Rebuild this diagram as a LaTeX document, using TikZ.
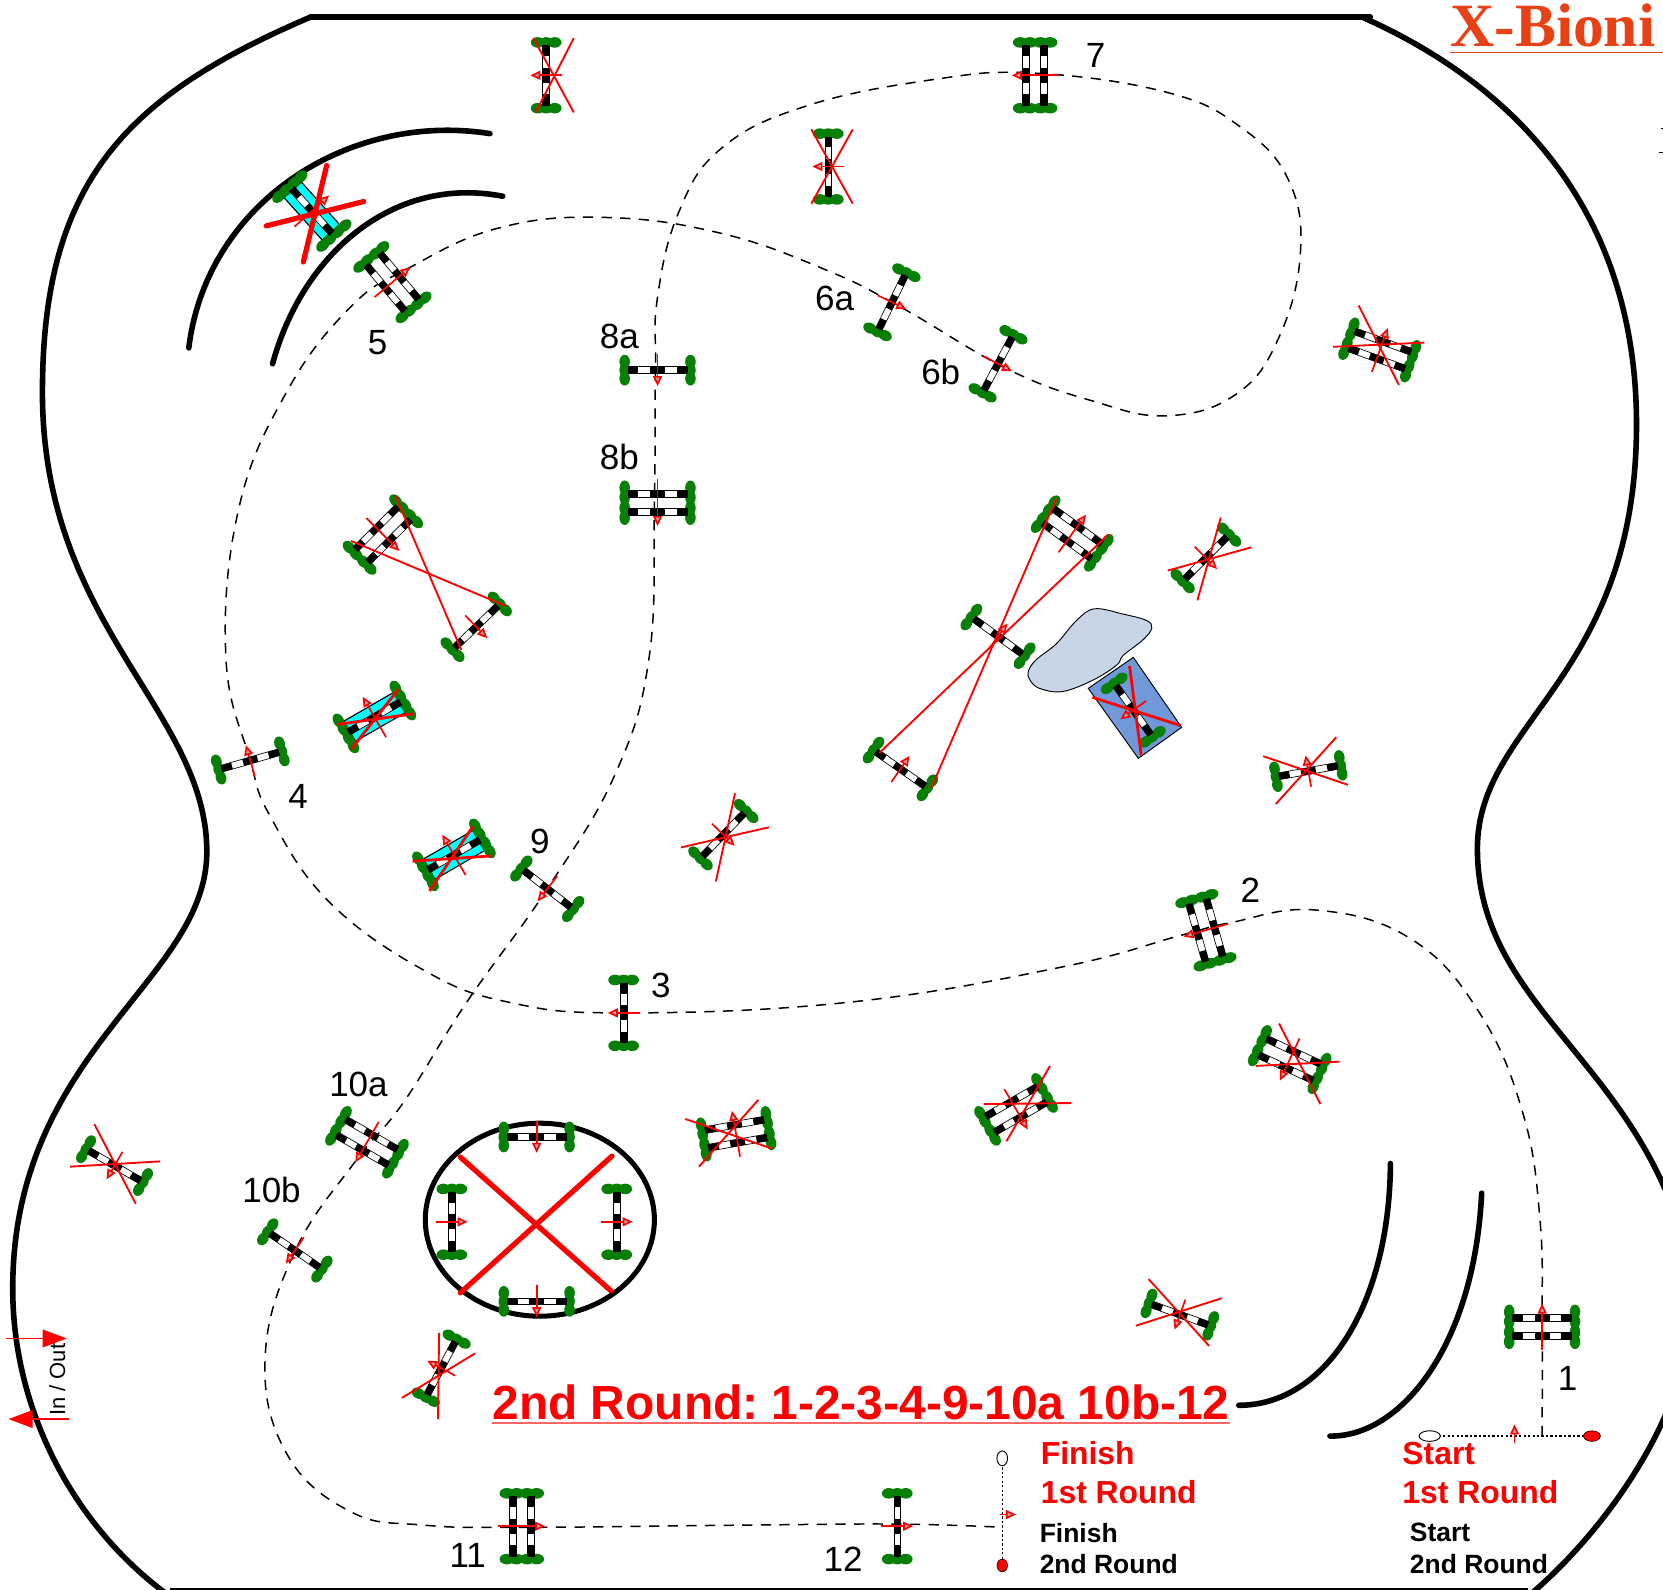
\documentclass[tikz,border=0pt]{standalone}
\usepackage{fontspec}
\setmainfont{Liberation Sans}
\newfontfamily\titlefont{Liberation Serif}
\usepackage{xcolor}
\usetikzlibrary{arrows.meta}
\definecolor{wing}{RGB}{8,128,8}
\definecolor{titlered}{RGB}{232,65,22}
\definecolor{pond}{RGB}{199,213,230}
\definecolor{mat}{RGB}{113,153,217}
\definecolor{pool}{RGB}{0,255,255}

\newcommand{\railbar}[1]{%
  \fill[white,draw=black,line width=0.35pt] (-28,#1-3.2) rectangle (28,#1+3.2);
  \foreach \a/\b in {-28/-18,-7/7,18/28} {\fill[black] (\a,#1-3.2) rectangle (\b,#1+3.2);}
}

\begin{document}
\frenchspacing
\begin{tikzpicture}[x=0.02cm,y=-0.02cm,
  flight/.style={red, line width=0.9pt, -{Triangle[length=5.4pt,width=4.8pt,fill=gray!65]}},
  track/.style={black, line width=0.8pt, dash pattern=on 5.5pt off 4.5pt},
  dotline/.style={black, line width=0.8pt, dash pattern=on 1.2pt off 1.2pt},
  wall/.style={black, line width=3pt, line cap=round},
  cross/.style={red, line width=1pt},
  crossmid/.style={red, line width=1.5pt},
  crossfat/.style={red, line width=2.8pt, line cap=round},
  big/.style={red, line width=0.8pt, -{Triangle[length=13pt,width=9.5pt]}},
  num/.style={font=\fontsize{18.8}{22}\selectfont, inner sep=0pt},
  redtext/.style={red, font=\fontsize{17.1}{20}\bfseries\selectfont, anchor=west, inner sep=0pt},
  blacktext/.style={black, font=\fontsize{14.2}{17}\bfseries\selectfont, anchor=west, inner sep=0pt},
  fence/.pic={
    \foreach \w in {-31,31} {\foreach \b in {-8,0,8} {\fill[wing] (\w,\b) ellipse (5 and 6.5);}}
    \railbar{0}
    \draw[flight] (0,15) -- (0,-15);
  },
  oxer/.pic={
    \foreach \w in {-31,31} {\foreach \b in {-14,-5,5,14} {\fill[wing] (\w,\b) ellipse (5 and 7);}}
    \railbar{-8.5}
    \railbar{8.5}
    \draw[flight] (0,22) -- (0,-22);
  },
  water/.pic={
    \fill[pool,draw=black,line width=0.6pt] (-27,-11) rectangle (27,11);
    \foreach \w in {-31,31} {\foreach \b in {-14,-5,5,14} {\fill[wing] (\w,\b) ellipse (5 and 7);}}
    \railbar{0}
    \draw[flight] (0,22) -- (0,-22);
  }]
  \useasboundingbox (0,0) rectangle (1568,1499);
  \clip (0,0) rectangle (1568,1499);

  % arena
  \draw[wall] (293,16) -- (1292,16);
  \draw[wall] (293,16) .. controls (120,90) and (40,170) .. (40,370)
    .. controls (40,590) and (195,670) .. (195,803)
    .. controls (195,925) and (12,990) .. (12,1215)
    .. controls (12,1330) and (70,1440) .. (160,1505);
  \draw[wall] (1284,16) .. controls (1440,85) and (1543,210) .. (1543,400)
    .. controls (1543,640) and (1393,680) .. (1393,800)
    .. controls (1393,950) and (1545,1000) .. (1590,1180)
    .. controls (1620,1290) and (1530,1430) .. (1441,1505);
  \draw[black, line width=1pt] (160,1498.5) -- (1441,1498.5);

  % curved walls
  \draw[wall] (178,328) .. controls (195,190) and (330,105) .. (462,126);
  \draw[wall] (257,343) .. controls (285,240) and (370,165) .. (474,185);
  \draw[wall] (1311,1097) .. controls (1310,1230) and (1250,1325) .. (1168,1325);
  \draw[wall] (1397,1125) .. controls (1390,1270) and (1320,1355) .. (1254,1354);

  % ring
  \draw[black, line width=2.7pt] (509,1150) ellipse (108 and 91);

  % track
  \draw[track] plot[smooth,tension=0.7] coordinates {(1454,1354) (1454,1251) (1452,1150) (1436,1050) (1395,955) (1330,885) (1240,858) (1160,870) (1113,882) (1000,912) (800,945) (588,955) (480,945) (400,915) (310,850) (255,770) (236,717) (213,620) (225,480) (270,370) (330,290) (385,253) (470,215) (570,205) (680,220) (780,255) (850,290) (950,348) (1030,378) (1100,392) (1165,372) (1205,320) (1226,240) (1215,170) (1170,120) (1100,87) (976,69) (880,75) (760,100) (680,140) (640,200) (620,280) (618,349) (617,474) (612,620) (580,730) (516,838) (440,945) (380,1040) (335,1095) (278,1180) (250,1280) (270,1370) (330,1425) (400,1438) (500,1440) (700,1438) (846,1437) (945,1440)};

  % start and finish lines
  \draw[dotline] (1348,1354) -- (1500,1354);
  \draw[dotline] (945,1375) -- (945,1476);
  \fill[white,draw=black,line width=0.5pt] (1348,1354) ellipse (10 and 5);
  \fill[red,draw=black,line width=0.3pt] (1501,1354) ellipse (8 and 5);
  \fill[white,draw=black,line width=0.5pt] (945,1375) ellipse (5 and 7);
  \fill[red,draw=black,line width=0.3pt] (945,1476) ellipse (5 and 6);
  \draw[flight] (1428,1361) -- (1428,1343);
  \draw[flight] (943,1428) -- (958,1428);

  % pond and mat
  \fill[pond,draw=black,line width=0.5pt] plot[smooth cycle,tension=0.6] coordinates {(969.5,633) (977,622) (996,607) (1015,585) (1032,574) (1059,579) (1081,585) (1086,592) (1078,603) (1059,618) (1053,627) (1031,641) (1002,652) (980,649) (971,641)};
  \fill[mat,draw=black,line width=0.5pt] (1068.6,619.8) -- (1114.1,685.8) -- (1073.3,715) -- (1026.1,649) -- cycle;

  % fences of the course and the others
  \foreach \x/\y/\r in {588/955/90, 236/717/16, 841/285/-116, 941/343/-118, 620/349/180, 516/838/142, 278/1179/145.5, 846/1439/-90,
    515/71/90, 781/157/90, 449/591/-136, 1137/526/-135, 682/787/-134, 1233.6/727/10, 941/600/-36, 849/725/-35, 1068.5/669.5/125.5,
    108/1099/150, 416/1290/62, 1112.5/1239.5/160,
    506/1072/180, 506/1227/180, 426/1152/-90, 581.5/1152/-90} {
    \pic[rotate=\r] at (\x,\y) {fence};
  }
  \foreach \x/\y/\r in {1454/1251/0, 1137/877/106, 370/266/-50, 976/71/90, 620/474/180, 346/1077/150, 492/1439/-90,
    1301/330/-20, 361/504/-135, 1011/503/-36, 694/1069/10, 958/1046/-150, 1216/999/155} {
    \pic[rotate=\r] at (\x,\y) {oxer};
  }
  \foreach \x/\y/\r in {294/199/-48, 353/676/30, 428/806/30} {
    \pic[rotate=\r] at (\x,\y) {water};
  }

  % crossed out
  \foreach \a/\b/\c/\d in {503/36/541/106, 541/36/505/106, 765/122/804/192, 804/122/765/192,
    1281/288/1319/363, 1257/327/1343/323, 1151/488/1129/566, 1101/538/1180/516,
    693/748/675/831, 642/799/725/780, 1191/713/1271/740, 1260/695/1203/758,
    715/1037/659/1100, 646/1055/728/1083, 990/1005/949/1076, 928/1041/1010/1040,
    1206/965/1245/1041, 1184/1005/1263/1001, 89/1060/128/1135, 66/1100/151/1095,
    414/1257/413/1338, 379/1318/448/1276, 1083/1206/1140/1269, 1071/1250/1152/1224,
    373/468/435/613, 331/510/476/571, 996/470/878/743, 1045/504/829/710} {
    \draw[cross] (\a,\b) -- (\c,\d);
  }
  \foreach \a/\b/\c/\d in {375.5/650/331.5/706, 318/683/390/673, 446/779/405/840, 389/812/463.5/807,
    1065/628/1076/712, 1030/657.5/1113/684} {
    \draw[crossmid] (\a,\b) -- (\c,\d);
  }
  \foreach \a/\b/\c/\d in {308/156/286/247, 343/190/251/213, 434/1091/576/1217, 577/1090/434/1219} {
    \draw[crossfat] (\a,\b) -- (\c,\d);
  }

  % in and out
  \draw[big] (6,1262) -- (63,1262);
  \draw[big] (65,1338) -- (8,1338);
  \node[rotate=90, inner sep=0pt, font=\fontsize{11.8}{14}\selectfont] (inout) at (54,1301) {In / Out};

  % numbers
  \foreach \x/\y/\t in {1478/1300/1, 1179/839/2, 623/929/3, 281/751/4, 356/323/5, 787/281/6a, 887/351/6b, 1033/52/7,
    584/317/8a, 584/431/8b, 509/793/9, 338/1022/10a, 256/1122/10b, 441/1467/11, 795/1470/12} {
    \node[num] (num\t) at (\x,\y) {\t};
  }

  % texts
  \node[anchor=base west, inner sep=0pt, text=titlered, font=\fontsize{33}{40}\titlefont\bfseries\selectfont] (title) at (1367,44) {X-Bioni};
  \draw[titlered, line width=0.6pt] (title.base west) ++(0,5.5) -- ++(201,0);
  \node[anchor=base west, inner sep=0pt, text=red, font=\fontsize{25.7}{30}\bfseries\selectfont] (round) at (464,1338) {2nd Round: 1-2-3-4-9-10a 10b-12};
  \draw[red!60, line width=1pt] (round.base west) ++(0,3.5) -- ++(696,0);
  \node[redtext] (finish1) at (981,1370) {Finish};
  \node[redtext] (round1) at (981,1407) {1st Round};
  \node[blacktext] (finish2) at (980,1445) {Finish};
  \node[blacktext] (round2) at (980,1475) {2nd Round};
  \node[redtext] (start1) at (1322,1370) {Start};
  \node[redtext] (round3) at (1322,1407) {1st Round};
  \node[blacktext] (start2) at (1329,1445) {Start};
  \node[blacktext] (round4) at (1329,1475) {2nd Round};

  % marks at the edge
  \draw[black, line width=0.4pt] (1566,121) -- (1568,121);
  \draw[black, line width=0.4pt] (1564,144) -- (1568,144);
\end{tikzpicture}
\end{document}
